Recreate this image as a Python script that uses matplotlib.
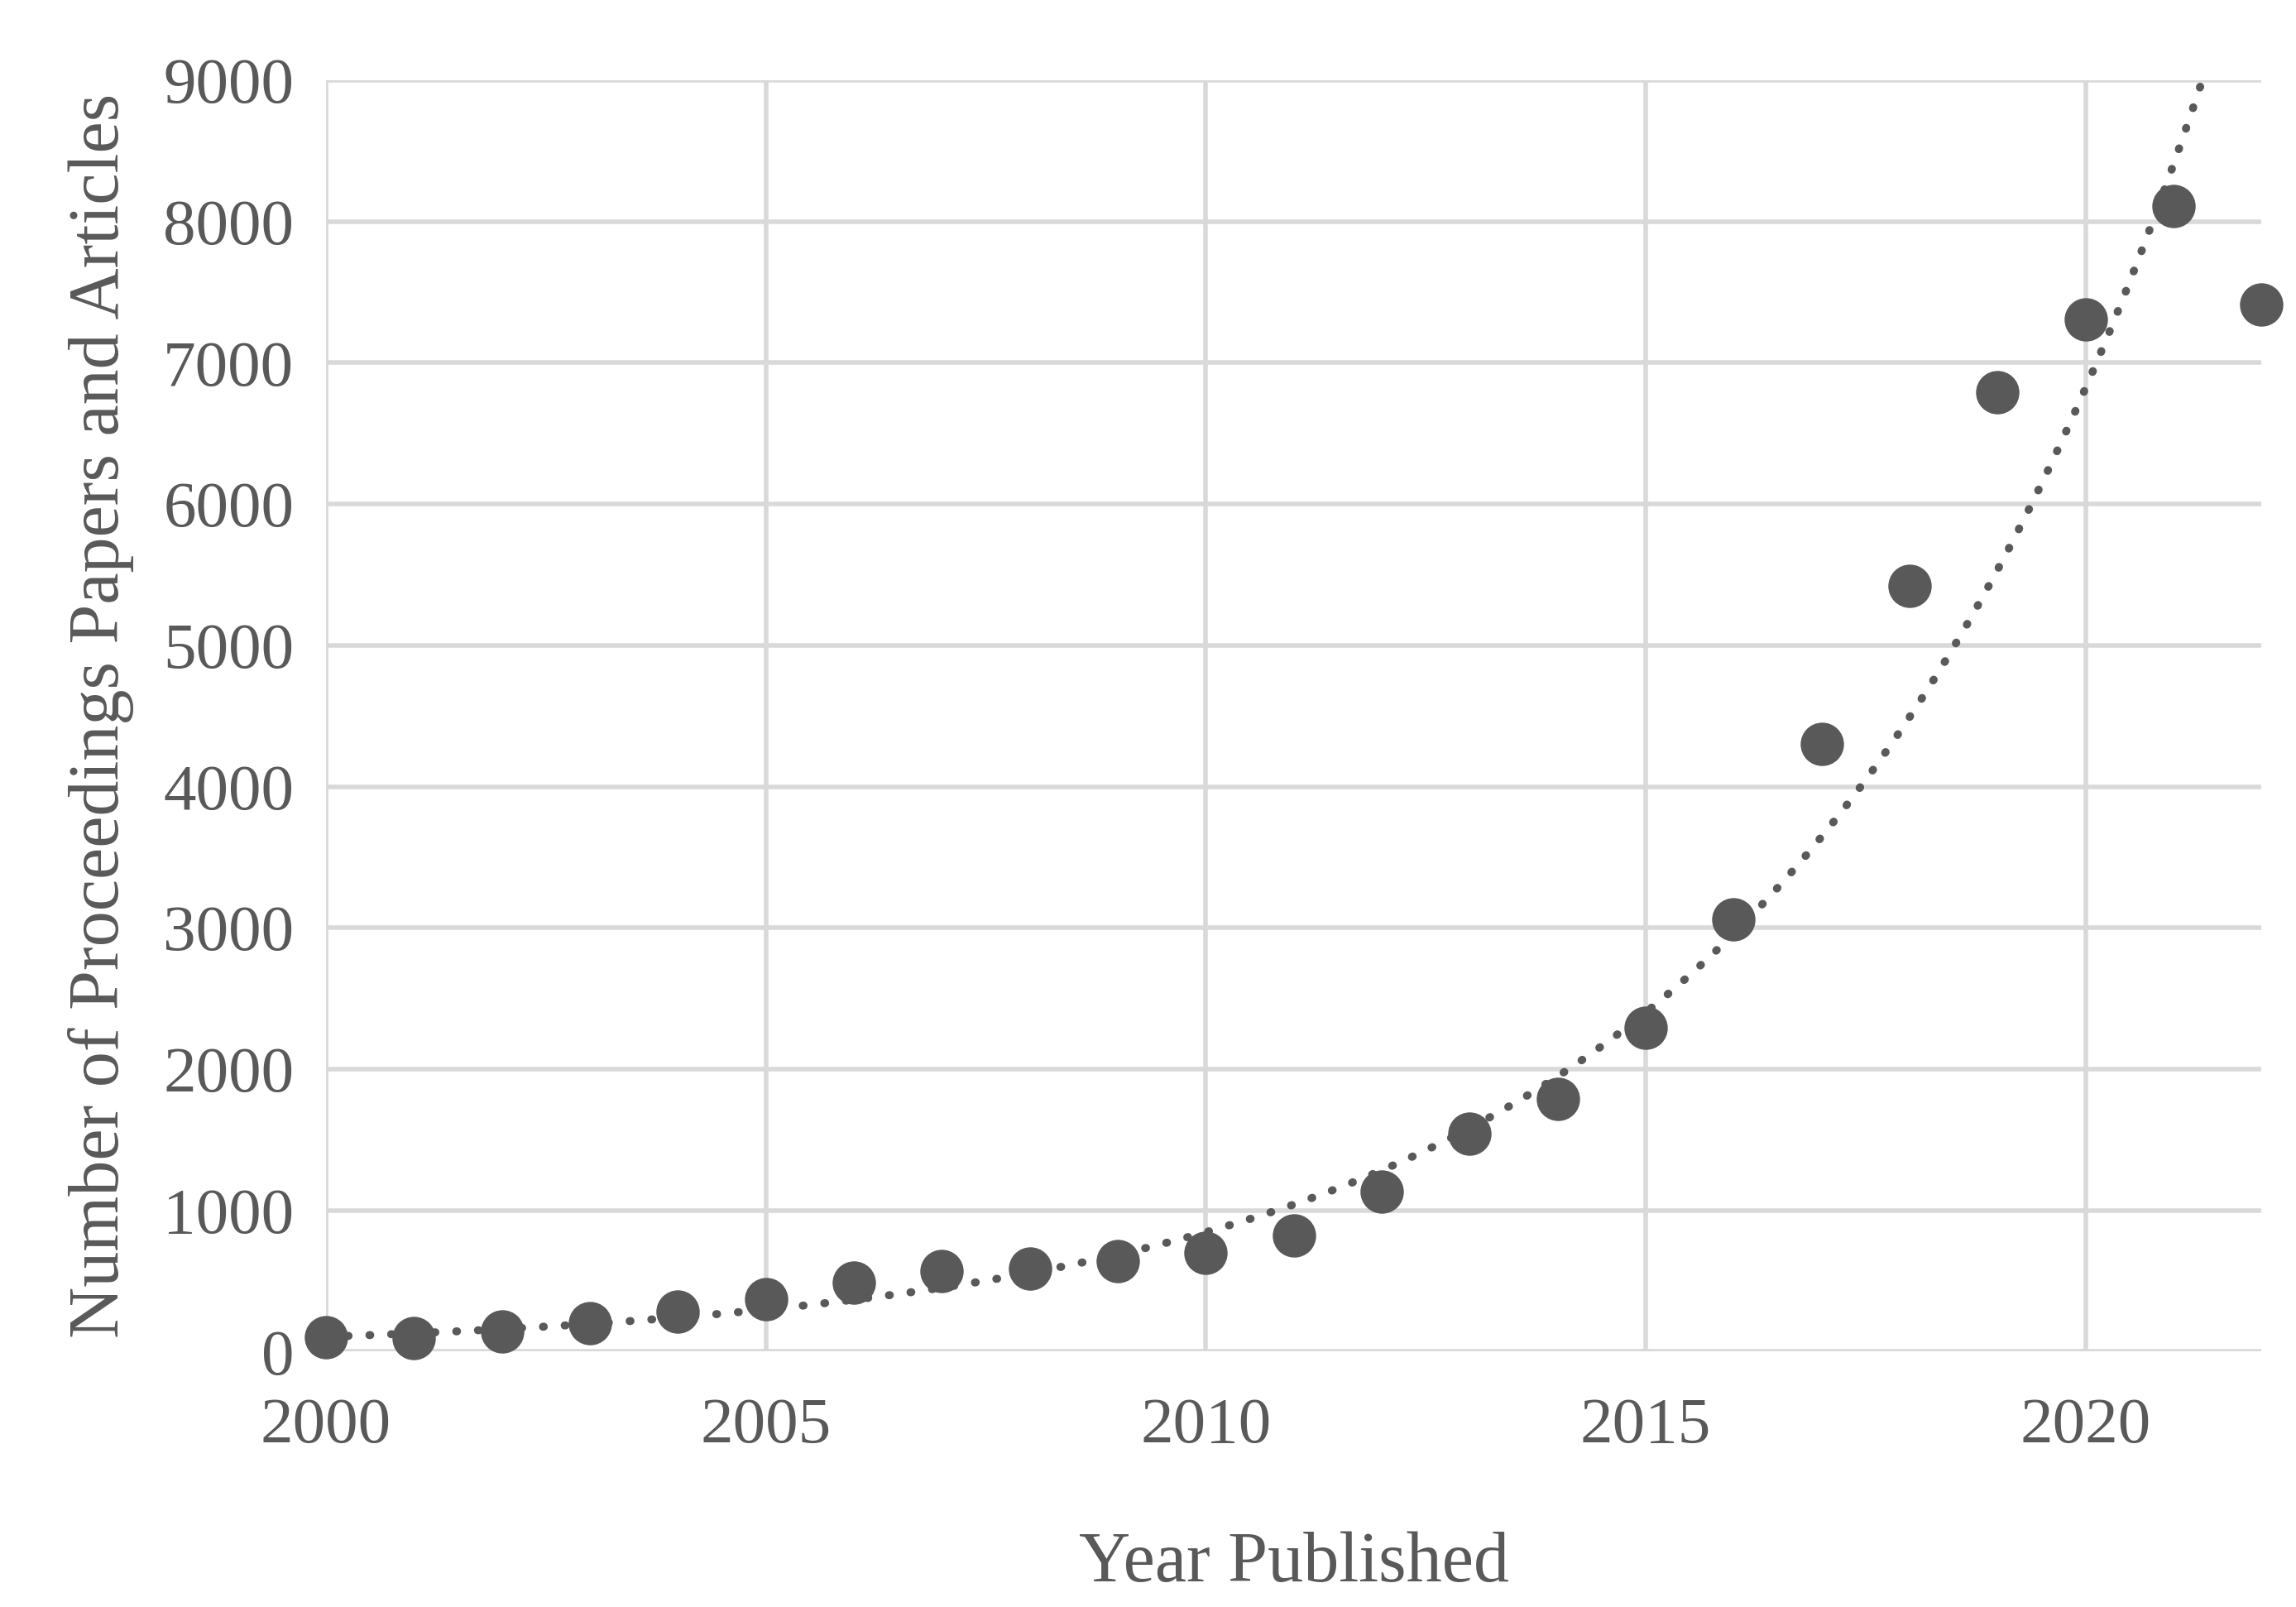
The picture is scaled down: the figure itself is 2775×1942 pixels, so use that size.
import numpy as np
import matplotlib
matplotlib.use("Agg")
import matplotlib.pyplot as plt

years = [2000,2001,2002,2003,2004,2005,2006,2007,2008,2009,2010,2011,2012,2013,2014,2015,2016,2017,2018,2019,2020,2021,2022]
counts = [100,95,140,200,280,370,490,570,590,640,700,820,1130,1540,1790,2290,3060,4300,5420,6790,7310,8110,7410]

plt.rcParams['font.family'] = ['Liberation Serif', 'DejaVu Serif']
grey = '#595959'
fig = plt.figure(figsize=(27.75, 19.42), dpi=100)
ax = fig.add_axes([0.142, 0.159, 0.843, 0.791])

x = np.array(years, float); y = np.array(counts, float)
b, a = np.polyfit(x - 2000, np.log(y), 1)
xt = np.linspace(2000, 2022, 400)
ax.plot(xt, np.exp(a + b*(xt-2000)), linestyle=(0, (0.1, 2.6)), color=grey, lw=7, dash_capstyle='round')
ax.scatter(x, y, s=1350, color=grey, zorder=3, clip_on=False)

ax.set_xlim(2000, 2022)
ax.set_ylim(0, 9000)
ax.set_xticks(range(2000, 2021, 5))
ax.set_yticks(range(0, 9001, 1000))
ax.grid(True, color='#d9d9d9', lw=4)
ax.set_axisbelow(True)
for s in ax.spines.values():
    s.set_visible(False)
ax.tick_params(length=0, labelsize=57, colors=grey)
ax.tick_params(axis='x', pad=40)
ax.tick_params(axis='y', pad=28)
ax.set_xlabel('Year Published', fontsize=62, color=grey, labelpad=65)
ax.set_ylabel('Number of Proceedings Papers and Articles', fontsize=62, color=grey, labelpad=25)
fig.savefig('out.png')
